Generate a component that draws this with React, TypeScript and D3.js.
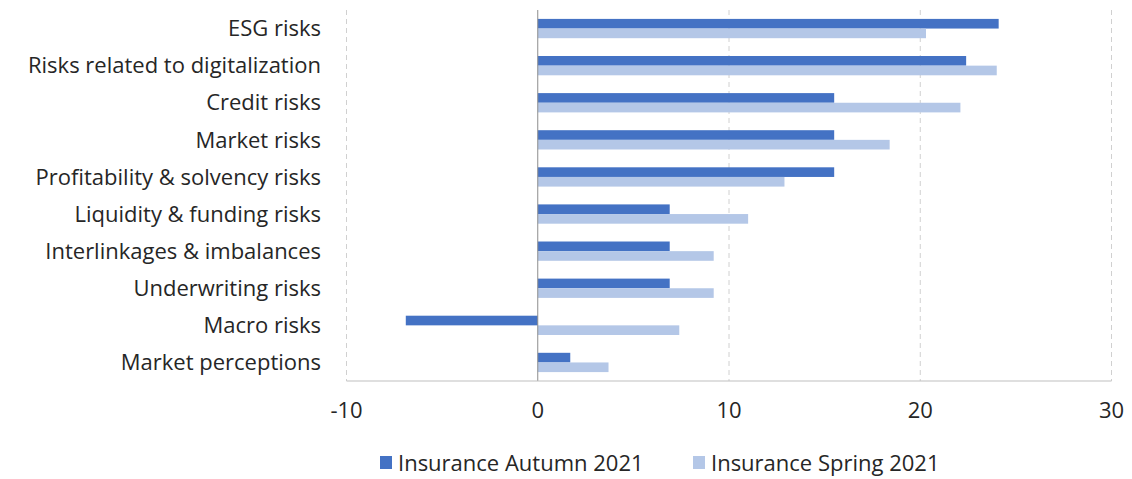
import React from "react";
import * as d3 from "d3";

const categories = [
  "ESG risks",
  "Risks related to digitalization",
  "Credit risks",
  "Market risks",
  "Profitability & solvency risks",
  "Liquidity & funding risks",
  "Interlinkages & imbalances",
  "Underwriting risks",
  "Macro risks",
  "Market perceptions",
];
const autumn2021 = [24.1, 22.4, 15.5, 15.5, 15.5, 6.9, 6.9, 6.9, -6.9, 1.7];
const spring2021 = [20.3, 24.0, 22.1, 18.4, 12.9, 11.0, 9.2, 9.2, 7.4, 3.7];
const seriesNames = ["Insurance Autumn 2021", "Insurance Spring 2021"];
const xTicks = [-10, 0, 10, 20, 30];

const W = 1132;
const H = 479;
const colors = ["#4472C4", "#B4C7E7"];
const FONT = "'Open Sans', sans-serif";

export default function App() {
  const x = d3.scaleLinear().domain([-10, 30]).range([346.5, 1111.5]);
  const y = d3.scaleBand().domain(categories).range([10, 381]).paddingInner(0.48).paddingOuter(0.24);
  const bw = y.bandwidth() / 2;
  const series = [autumn2021, spring2021];

  return (
    <svg width={W} height={H} style={{ position: "absolute", left: 0, top: 0, background: "#fff" }}>
      {xTicks.filter((t) => t !== 0).map((t) => (
        <line key={t} x1={x(t)} x2={x(t)} y1={10} y2={381} stroke="#D0D0D0" strokeDasharray="5,4" strokeWidth={1} />
      ))}
      {series.map((vals, si) =>
        vals.map((v, i) => {
          const x0 = x(Math.min(0, v));
          const x1 = x(Math.max(0, v));
          return (
            <rect
              key={`${si}-${i}`}
              x={x0}
              y={(y(categories[i]) as number) + si * bw}
              width={x1 - x0}
              height={bw}
              fill={colors[si]}
            />
          );
        })
      )}
      <line x1={x(0)} x2={x(0)} y1={10} y2={381} stroke="#8C8C8C" strokeWidth={1} />
      <line x1={x(-10)} x2={x(30)} y1={381} y2={381} stroke="#BFBFBF" strokeWidth={1} />
      {xTicks.map((t) => (
        <text key={t} x={x(t)} y={418} textAnchor="middle" fontFamily={FONT} fontSize={22} fill="#262626">
          {t}
        </text>
      ))}
      {categories.map((c) => (
        <text
          key={c}
          x={321}
          y={(y(c) as number) + y.bandwidth() / 2}
          dy="0.35em"
          textAnchor="end"
          fontFamily={FONT}
          fontSize={22}
          fill="#262626"
        >
          {c}
        </text>
      ))}
      {seriesNames.map((n, i) => {
        const lx = i === 0 ? 380 : 693;
        return (
          <g key={n}>
            <rect x={lx} y={456} width={12} height={13} fill={colors[i]} />
            <text x={lx + 18} y={463} dy="0.35em" fontFamily={FONT} fontSize={22} fill="#262626">
              {n}
            </text>
          </g>
        );
      })}
    </svg>
  );
}
